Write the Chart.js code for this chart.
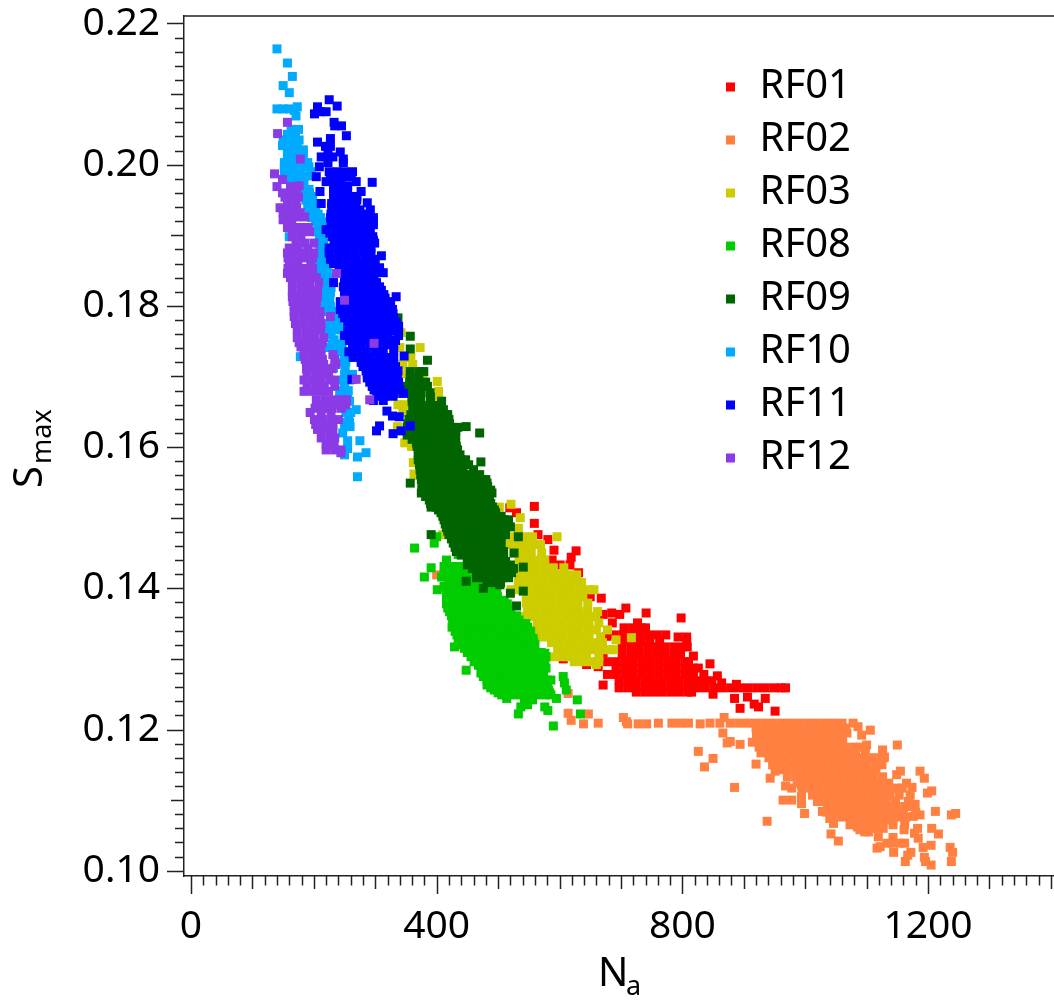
<!DOCTYPE html>
<html>
<head>
<meta charset="utf-8">
<style>
  html, body { margin: 0; padding: 0; background: #fff; }
  canvas { display: block; }
</style>
<script src="https://cdn.jsdelivr.net/npm/chart.js@4/dist/chart.umd.min.js"></script>
</head>
<body>
<canvas id="myChart" width="1054" height="1003"></canvas>
<script>
const flightNames = ['RF01', 'RF02', 'RF03', 'RF08', 'RF09', 'RF10', 'RF11', 'RF12']
const flightColors = ['#ff0000', '#ff8040', '#cccc00', '#00cc00', '#006400', '#00aaff', '#0000ff', '#8b3be6']
const xTickValues = [0, 400, 800, 1200]
const yTickValues = [0.10, 0.12, 0.14, 0.16, 0.18, 0.20, 0.22]

// each row: Smax first, then the Na values read at that Smax
const rf01 = [
  [.1516,559],[.1492,559],[.1514,519],[.1507,530],[.1476,565],[.1469,581],[.1454,591],[.1453,627],[.1444,619],
  [.144,588],[.1433,601,617],[.1422,631],[.1388,650],[.1386,668],[.1372,708],[.1365,685,741],[.1363,671,698],
  [.1358,798],[.1351,686,727],[.1344,705,719,733,740],[.1332,677],[.1308,671],[.13,606],[.1292,644],[.1289,663],
  [.1334,689,703,717,731,745,759,773],[.1331,793,807],[.1325,705,719,733,747,763,807],
  [.1317,702,716,730,744,758,772,786,800,808],[.1306,702,716,730,744,758,772,786,797],[.1304,818],
  [.1296,678,692,706,720,734,748,762,776,790,804,810],[.1293,845],
  [.1287,692,706,720,734,748,762,776,790,804,818,826],
  [.1278,678,692,706,720,734,748,762,776,790,804,818,835],[.1276,857],
  [.1269,697,711,725,739,753,767,781,795,809,823,837,848],[.1266,864],[.1264,888],[.1263,671],
  [.1259,697,711,725,739,753,767,781,795,809,823,837,851,865,879,893,907,921,935,949,961,968],
  [.1253,725,739,753,767,781,795,809,815],[.125,850],
  [.1246,906],[.1244,885,935],[.1236,917],[.1232,924],[.123,894],[.1226,951]
]
const rf02 = [
  [.1419,400],[.1325,441],[.1251,614],[.1223,614],[.1222,647],[.1217,704,868],[.1213,619],[.1211,709],
  [.1209,663,761,783,797,810],[.1208,639,711,728,742,829],
  [.1209,845,861,878,892,906,920,934,948,962,976,990,1004,1018,1032,1046,1060,1078],[.1204,1086],[.1199,1106],
  [.1202,920,934,948,962,976,990,1004,1018,1032,1046,1060,1066],
  [.1195,866,921,935,949,963,977,991,1005,1019,1033,1047,1061,1068],[.1192,1092],
  [.1189,921,935,949,963,977,991,1005,1019,1033,1047,1060],[.1183,878],
  [.1182,914,928,942,956,970,984,998,1012,1026,1040,1054,1061],[.1181,873],[.1179,894],[.1178,1100,1150],
  [.1175,925,939,953,967,981,995,1009,1023,1037,1051,1065,1079,1090],[.1171,1126],[.1169,826],
  [.1167,928,942,956,970,984,998,1012,1026,1040,1054,1068,1082,1098],[.1161,1129],[.1159,850],
  [.116,941,955,969,983,997,1011,1025,1039,1053,1067,1081,1095,1109,1123,1128],[.1151,920],
  [.115,947,961,975,989,1003,1017,1031,1045,1059,1073,1087,1101,1115,1125],[.1147,836],
  [.1143,955,969,983,997,1011,1025,1039,1053,1067,1081,1095,1109,1115],[.1141,951,1155,1187],
  [.1136,1149],[.1133,971,985,999,1013,1027,1041,1055,1069,1083,1097,1111,1126],[.1131,943,1194],
  [.1124,987,1001,1015,1029,1043,1057,1071,1085,1099,1113,1127,1136,1165],[.112,968],
  [.1118,885,1174],[.1117,978,995,1009,1023,1037,1051,1065,1079,1093,1107,1121,1135,1149,1158],[.1113,1206],
  [.1121,994],[.111,1199],[.1107,1012,1026,1040,1054,1068,1082,1096,1110,1124,1138,1153,1171],[.1105,994],
  [.11,964,978],[.1098,1020,1034,1048,1062,1076,1090,1104,1118,1132,1147,1168],[.1095,994],[.1094,1179],
  [.1091,1036,1050,1064,1078,1092,1106,1120,1134,1148,1162,1169],
  [.1084,1028,1212],[.1083,1034,1048,1062,1076,1090,1104,1118,1132,1146,1160,1180],
  [.1081,999,1245],[.1079,1187,1238],[.1077,1176],
  [.1076,1044,1058,1072,1086,1100,1114,1128,1142,1156,1164],[.1074,1040],[.1072,1138],[.107,938],
  [.1069,1075,1089,1103,1117,1126],[.1067,1046],[.1065,1073,1143,1162],
  [.1062,1085,1099,1110],[.106,1117,1127,1183,1206],[.1058,1089,1161],[.1055,1097,1103],
  [.1053,1178],[.1052,1042,1217],[.1048,1119],[.1047,1143],[.1046,1184],[.1042,1054],
  [.1039,1133,1143,1155,1162],[.1036,1205],[.1034,1122],[.1033,1192,1236],[.1032,1117],
  [.1026,1144,1172,1240],[.1022,1167],[.1019,1194],[.1013,1163,1196,1238],[.1008,1205]
]
const rf03 = [
  [.1762,342],[.1741,340,373],[.1727,358],[.1717,345,361],[.1704,349],[.1698,378],[.1693,401],[.1679,403],[.1672,403],
  [.166,337,346],[.1649,345],[.1629,336],[.1606,348],[.1601,359],[.1578,362],[.1562,363],[.156,370],
  [.1519,521],[.1515,502],[.15,536],[.1485,533],[.1476,410],
  [.1473,515,529,543,556,596],[.1462,518,532,546,560,569],[.145,526,540,554,571],[.144,534,548,562,576],
  [.1429,534,548,562,576,590,607],[.1419,534,548,562,576,590,604,618,628],[.1406,634],
  [.1408,533,547,561,575,589,603,617,631,636],[.1398,521,535,549,563,577,591,605,619,633,647,656],
  [.1388,546,560,574,588,602,616,630,638],[.1379,546,560,574,588,602,616,630,646],
  [.1367,548,562,576,590,604,618,632,646,662],[.136,541,555,569,583,597,611,625,639,653,659],
  [.1351,564,578,592,606,620,634,648,664],[.1341,562,576,590,604,618,632,646,660,678],
  [.1331,564,578,592,606,620,634,648,667],[.133,717],[.1327,692],[.1323,587,601,615,629,643,657,670],
  [.1313,597,611,625,639,653,667,681,688],[.1303,588,602,616,630,644,664],[.1296,624,638,652,664],[.1292,660]
]
const rf08 = [
  [.1473,400],[.1464,396],[.1457,364],[.1448,435],[.144,416],[.1429,391],[.1416,380,408],
  [.1431,412,426,439],[.142,412,426,440,451],[.1408,429,443,457,463],[.1398,401,416,430,444,458,472,486,491],
  [.1388,416,430,444,458,472,486,499],[.1378,416,430,444,458,472,486,500,515],
  [.1367,421,435,449,463,477,491,505,520],[.1355,427,441,455,469,483,497,511,525,534],
  [.1345,425,439,453,467,481,495,509,523,537,548],[.1334,433,447,461,475,489,503,517,531,545,550],
  [.1324,437,451,465,479,493,507,521,535,549,558],[.1317,429],[.1315,445,459,473,487,501,515,529,543,558],
  [.1308,576],[.1303,456,470,484,498,512,526,540,554,568,578],[.1296,461,475,489,503,517,531,545,559,574],
  [.1287,473,487,501,515,529,543,557,571,578],[.1284,448],[.128,472,486,500,514,528,542,556,570,574],
  [.1275,606],[.127,482,496,510,524,538,552,566,580,586],[.1266,608],[.1263,482,496,510,524,538,552,566,573],
  [.1256,494,508,522,536,550,564,578,582,611],[.1249,506,520,534,548,562,576,586],[.1244,514,595],
  [.1242,543,556,629],[.1235,548],[.1232,537,576],[.1227,581],[.1222,533,634],[.1205,590],
  [.1426,414,428,442],[.1414,420,434,448,458],[.1403,412,426,440,454,468,482],[.1393,416,430,444,458,472,486,498],
  [.1383,416,430,444,458,472,486,500,510],[.1372,418,432,446,460,474,488,502,516],
  [.1361,424,438,452,466,480,494,508,522,530],[.135,426,440,454,468,482,496,510,524,538,545],
  [.1339,430,444,458,472,486,500,514,528,542,553],[.1329,435,449,463,477,491,505,519,533,547,557],
  [.132,440,454,468,482,496,510,524,538,552,560],[.1309,450,464,478,492,506,520,534,548,562,570],
  [.1291,468,482,496,510,524,538,552,566,576],[.1275,476,490,504,518,532,546,560,574],
  [.1259,488,502,516,530,544,558,572,580],[.1252,500,514,528,542,556,570,584]
]
const rf09 = [
  [.1783,337],[.1757,357],[.1739,357],[.1723,385],[.1707,357,371,379],[.1698,357,371],[.1686,352,365,378,385],
  [.1677,360,374,389],[.1665,360,374,390,408],[.1653,362,376,390,404,411],[.1639,355,369,383,397,411,420],
  [.1629,448],[.1628,352,366,380,394,408,421,434],[.162,470],[.1617,352,366,380,394,408,422,431],
  [.1606,367,381,395,409,423,431],[.1596,370,384,398,412,426,434],[.1582,370,384,398,412,426,440,447],
  [.1579,472],[.1568,373,387,401,415,429,443,460],[.1554,375,389,403,417,431,445,459,473,480],[.1549,357],
  [.1544,377,391,405,419,433,447,461,475,483],[.1535,375,389,403,417,431,445,459,473,490],
  [.1525,388,402,416,430,444,458,472,481],[.1515,391,399,413,427,441,455,469,483,491],
  [.1507,407,421,435,449,463,477,491,496],[.1497,412,426,440,454,468,482,496,510,517],[.1487,520],
  [.1486,416,430,444,458,472,486,500,504],[.1476,391,420,434,448,462,476,490,504,512],[.1473,533],
  [.1464,427,441,455,469,483,497,501],[.1452,432,446,460,474,488,502,509],[.145,526],
  [.1443,450,464,478,492,506,509],[.1433,450,464,478,492,506,520],[.143,541],
  [.1422,465,479,493,507,522],[.1415,465,479,493,507,517],[.141,448],[.1408,482,496,504],
  [.1405,503],[.14,476],[.1396,541],[.1393,520],[.1375,530],
  [.1692,356,370,382],[.1671,360,374,390],[.1659,361,375,389,403],[.1646,358,372,386,400,414,418],
  [.1633,353,367,381,395,409,421],[.1622,352,366,380,394,408,422,431],[.1611,360,374,388,402,416,430],
  [.1601,368,382,396,410,424,432],[.1589,370,384,398,412,426,438],[.1575,372,386,400,414,428,442,452],
  [.1561,374,388,402,416,430,444,458,470],[.1549,376,390,404,418,432,446,460,474,482],
  [.1539,376,390,404,418,432,446,460,474,488],[.153,382,396,410,424,438,452,466,480,486],
  [.152,390,404,418,432,446,460,474,488],[.1511,403,417,431,445,459,473,487,494],
  [.1502,410,424,438,452,466,480,494,505],[.1491,414,428,442,456,470,484,498,508],
  [.1481,418,432,446,460,474,488,502,510],[.147,424,438,452,466,480,494,505],
  [.1458,430,444,458,472,486,500,505],[.1447,440,454,468,482,496,508],[.1438,450,464,478,492,506,512],
  [.1428,458,472,486,500,514,525]
]
const rf10 = [
  [.2164,140],[.2144,157],[.2125,165],[.2112,150],[.2102,160],[.2082,173],[.2079,140,150,160],[.2077,168],[.2069,171],
  [.205,163,175],[.2043,157,170],[.2027,149,162,173],[.2021,157,170,183],[.2012,157,170,183],
  [.2003,152,165,178,190],[.199,152,165,178,195],[.1979,163,181],[.1969,180],[.196,187,193],[.195,187,198],
  [.1936,192,203],[.1925,197,211],[.1912,207,211],[.1898,160,209,215],[.188,210,218],[.187,212,214],
  [.1858,210,222],[.1847,209,219],[.1833,222,226],[.1819,220,227],[.1799,217,227],[.1785,228,236],
  [.1766,222,235,247],[.1752,233,249],[.1741,225,243],[.1728,178,250,252],[.1712,232,251],[.1703,250,263],
  [.1686,250],[.1674,242,255],[.1657,252],[.1653,269],[.1641,257],[.1629,250,259],[.162,247],[.1609,255,275],
  [.1598,255],[.1592,285],[.1589,250],[.1586,271],[.1558,271],
  [.2035,150,163,176],[.1997,152,165,178,192],[.1984,157,170,183,195],[.1974,170,184],[.1965,183,192],[.1955,185,196],
  [.1943,190,200],[.193,195,207],[.1919,203,214],[.1905,205,213],[.1889,208,216],[.1878,210,215],[.1865,209,221],
  [.1852,210,222],[.184,215,225],[.1826,220,228],[.1809,216,226],[.1792,222,232],[.1775,226,240],[.1759,228,250],
  [.1746,230,246],[.1735,236,250],[.172,240,252],[.1695,248,258],[.168,246,256],[.1665,246,258],[.1649,252,260],
  [.1635,254,258]
]
const rf11 = [
  [.2092,225],[.2083,238],[.2082,206],[.2075,210,220],[.2072,201],[.206,233],[.2055,234,245],[.2041,253],[.2037,227],
  [.2032,206],[.2026,219,227],[.2018,223,243],[.2011,212,223,231],[.2008,248],[.2003,223,248],[.1997,209],
  [.199,225,238,250,263],[.1983,204,227,240,252,261],[.1976,220,233,243,269],[.1975,295],[.1965,232,245,255],
  [.1962,210,277],[.1955,232,245,258,270],[.1946,287],[.1945,212,229,242,255,268],[.1936,234,247,260,275,292],
  [.1925,227,240,254,268,282,297],[.1915,229,243,257,271,285,297],[.1908,220,234,248,262,276,288],
  [.1898,230,244,258,272,286,296],[.1889,237,250,264,278,290,299],[.1882,225,239,253,267,281,293],
  [.1875,225,239,253,267,281,293],[.1871,310],[.1866,227,241,255,269,283,296],[.1854,241,255,269,283,297,307],
  [.1847,313],[.184,250,264,278,290,298],[.1833,232],[.1827,248,262,276,290,300,307],
  [.1816,250,264,278,292,306,314],[.1813,334],[.1806,243,257,271,285,299,313,320],
  [.1795,243,257,271,285,299,313,328],[.1783,250,264,278,292,306,320,330],[.1771,259,273,287,301,315,329,338],
  [.1758,250,264,278,292,306,320,338],[.1745,263,277,291,305,319,330],[.1735,257,271,285,299,313,330],[.1729,347],
  [.1727,264,278,292,306,320,330],[.172,277,291,305,319,330],[.1708,285,299,313,327,337],
  [.1698,287,301,315,329,333],[.1696,262],[.1686,295,309,323,337],[.1676,303,317,331,346],[.1672,303,315,329],
  [.1666,297,313],[.1651,319],[.1644,328],[.1643,339],[.163,307,357],[.1623,302,342],[.1619,329],
  [.1847,243,257,271,285,299],[.1833,250,264,278,292,302],[.1764,255,269,283,297,311,325,338],
  [.1751,258,272,286,300,314,328,333],[.1777,255,269,283,297,311,325,334],[.1789,247,261,275,289,303,317,329],
  [.1801,245,259,273,287,301,315,325],[.1811,250,264,278,292,306,316],[.1822,250,264,278,292,304,310],
  [.186,232,246,260,274,288,300],[.197,232,245,255],[.195,232,245,258,270],[.1941,229,242,255,268],
  [.193,228,241,255,269,283],[.192,228,242,256,270,284,297],[.1903,226,240,254,268,282,292],
  [.1893,233,247,261,275,288,297],[.1714,280,294,308,322,333],[.1703,287,301,315,329,336],
  [.1692,291,305,319,333,338],[.1681,298,312,326,340]
]
const rf12 = [
  [.206,157],[.2044,141],[.2008,178],[.1987,136],[.1979,149],[.197,176],[.1969,140,162],[.196,149,162,172],
  [.1948,157,171],[.1939,145,158,172],[.1926,160,172,185],[.1922,150,164],[.1911,157,170,183,191],
  [.1898,165,179],[.1889,171,185,200],[.1882,160,174,190],[.1875,157,171,185,200],[.1861,160,174,195],
  [.1846,157,171,185,195,237],[.1833,165,179,193,208],[.1821,165,179,193,206],[.1813,165,179,193,206],
  [.1808,250],[.1799,168,182,196,203],[.1785,168,182,196,210,227],[.1775,170,184,198,212],
  [.1766,173,187,201,211],[.1755,173,187,201,216],[.1747,298],[.1742,179,193,207,211],
  [.1731,184,198,212,231],[.1717,188,202,216,236],[.1705,189,203,217,224],[.1696,269],
  [.1695,184,198,212,226,234],[.1686,189,203,217,234],[.1679,184,198,212,224],[.1667,204,218,232,246,253,291],
  [.166,206,220,234,252],[.1649,194,212,228],[.1639,201,215,229,240],[.1625,206,220,231],[.1613,212,226,234],
  [.1604,220,233],[.1596,220,234,244],[.1592,244],
  [.1868,158,172,186,198],[.1853,158,172,186,198],[.184,162,176,190,204],[.1806,166,180,194,204],
  [.1792,168,182,196,210],[.1748,176,190,204,214],[.1724,186,200,214,234],[.1711,188,202,216,230],
  [.1632,203,217,231],[.1905,165,179,193],[.1954,153,167,175],[.1932,150,164,178],[.1655,202,216,230,245]
]
const flightRows = [rf01, rf02, rf03, rf08, rf09, rf10, rf11, rf12]

const toPoints = rows => rows.flatMap(([smax, ...na]) => na.map(x => ({ x, y: smax })))

const tickFont = { family: '"Noto Sans"', size: 39 }
const axisColor = '#222'

// tick marks in three lengths, plus the top line and the subscripted axis titles
const axisMarks = {
  id: 'axisMarks',
  beforeDraw (chart) {
    chart.legend.left = 708.5
    chart.legend.top = 54
  },
  afterDraw (chart) {
    const { ctx, chartArea, scales } = chart
    ctx.save()
    ctx.strokeStyle = axisColor
    ctx.lineWidth = 1.5
    ctx.beginPath()
    ctx.moveTo(chartArea.left, chartArea.top)
    ctx.lineTo(chartArea.right, chartArea.top)
    for (let v = 0; v <= 1400; v += 20) {
      const len = v % 400 === 0 ? 18 : v % 100 === 0 ? 13 : 9.5
      const px = Math.round(scales.x.getPixelForValue(v)) + 0.5
      ctx.moveTo(px, chartArea.bottom)
      ctx.lineTo(px, chartArea.bottom + len)
    }
    for (let k = 0; k <= 60; k++) {
      const len = k % 10 === 0 ? 17 : k % 5 === 0 ? 13 : 9
      const py = Math.round(scales.y.getPixelForValue(0.10 + k * 0.002)) + 0.5
      ctx.moveTo(chartArea.left, py)
      ctx.lineTo(chartArea.left - len, py)
    }
    ctx.stroke()

    ctx.fillStyle = '#000'
    ctx.textBaseline = 'alphabetic'
    ctx.font = '40px "Noto Sans"'
    ctx.fillText('N', 598, 986)
    ctx.font = '27px "Noto Sans"'
    ctx.fillText('a', 626, 995)

    ctx.translate(42, 488)
    ctx.rotate(-Math.PI / 2)
    ctx.font = '40px "Noto Sans"'
    ctx.fillText('S', 0, 0)
    ctx.font = '27px "Noto Sans"'
    ctx.fillText('max', 24, 9)
    ctx.restore()
  }
}

const pinScale = size => scale => {
  if (scale.isHorizontal()) scale.height = size
  else scale.width = size
  scale.paddingTop = scale.paddingBottom = scale.paddingLeft = scale.paddingRight = 0
}

new Chart(document.getElementById('myChart'), {
  type: 'scatter',
  plugins: [axisMarks],
  data: {
    datasets: flightNames.map((name, i) => ({
      label: name,
      data: toPoints(flightRows[i]),
      order: flightNames.length - i,
      pointStyle: 'rect',
      pointRadius: 6.364,
      pointHoverRadius: 6.364,
      pointBorderWidth: 0,
      backgroundColor: flightColors[i],
      borderColor: flightColors[i]
    }))
  },
  options: {
    responsive: false,
    animation: false,
    events: [],
    layout: { autoPadding: false, padding: { top: 16, right: 0, left: 0, bottom: 0 } },
    scales: {
      x: {
        type: 'linear',
        min: -11.4,
        max: 1405.1,
        afterBuildTicks: scale => { scale.ticks = xTickValues.map(value => ({ value })) },
        afterFit: pinScale(127),
        grid: { display: false },
        border: { display: true, color: axisColor, width: 1.5 },
        ticks: {
          font: tickFont,
          color: '#000',
          padding: 19,
          autoSkip: false,
          maxRotation: 0,
          callback: value => String(value)
        }
      },
      y: {
        type: 'linear',
        min: 0.09925,
        max: 0.22106,
        afterBuildTicks: scale => { scale.ticks = yTickValues.map(value => ({ value })) },
        afterFit: pinScale(184),
        grid: { display: false },
        border: { display: true, color: axisColor, width: 1.5 },
        ticks: {
          font: tickFont,
          color: '#000',
          padding: 16,
          autoSkip: false,
          callback: value => value.toFixed(2)
        }
      }
    },
    plugins: {
      tooltip: { enabled: false },
      legend: {
        position: 'chartArea',
        align: 'start',
        labels: {
          usePointStyle: true,
          boxWidth: 18,
          boxHeight: 9,
          padding: 13,
          color: '#000',
          font: { family: '"Noto Sans"', size: 40 },
          sort: (a, b) => a.datasetIndex - b.datasetIndex
        }
      }
    }
  }
})
</script>
</body>
</html>
